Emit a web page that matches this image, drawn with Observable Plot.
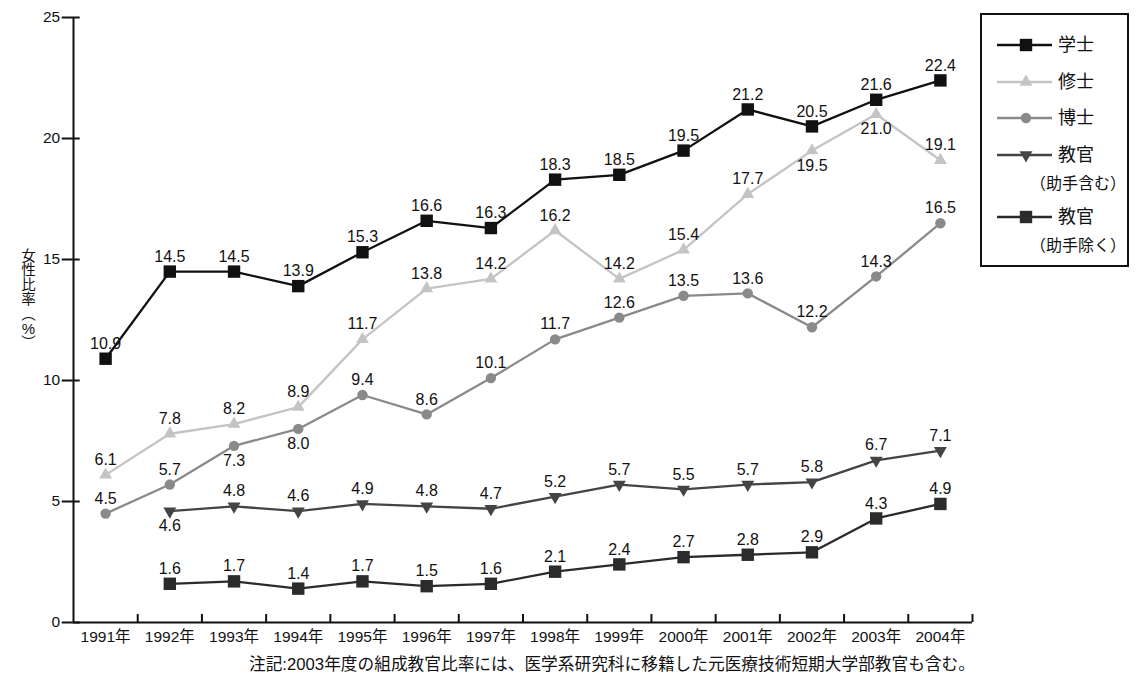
<!DOCTYPE html>
<html><head><meta charset="utf-8">
<script src="https://cdn.jsdelivr.net/npm/d3@7"></script>
<script src="https://cdn.jsdelivr.net/npm/@observablehq/plot@0.6"></script>
<style>
body{margin:0;background:#fff;font-family:"Liberation Sans","Noto Sans CJK JP",sans-serif;color:#111;}
#wrap{position:relative;width:1138px;height:675px;overflow:hidden;}
#chart{position:absolute;left:0;top:0;}
#ylabel{position:absolute;left:20px;top:248px;writing-mode:vertical-rl;font-size:14.5px;line-height:16px;font-family:"Noto Sans CJK JP",sans-serif;color:#111;}
#ylabel .pct{text-combine-upright:all;font-family:"Liberation Sans",sans-serif;font-size:15px;}
#note{position:absolute;left:249px;top:656px;font-size:16.7px;line-height:18px;white-space:nowrap;}
#legend{position:absolute;left:980px;top:13px;}
</style></head>
<body>
<div id="wrap">
  <div id="chart"></div>
  <div id="ylabel">女性比率（<span class="pct">%</span>）</div>
  <div id="legend"></div>
  <div id="note">注記:2003年度の組成教官比率には、医学系研究科に移籍した元医療技術短期大学部教官も含む。</div>
</div>
<script>
const years = [1991,1992,1993,1994,1995,1996,1997,1998,1999,2000,2001,2002,2003,2004];
const gakushi = [10.9,14.5,14.5,13.9,15.3,16.6,16.3,18.3,18.5,19.5,21.2,20.5,21.6,22.4];
const shushi = [6.1,7.8,8.2,8.9,11.7,13.8,14.2,16.2,14.2,15.4,17.7,19.5,21.0,19.1];
const hakushi = [4.5,5.7,7.3,8.0,9.4,8.6,10.1,11.7,12.6,13.5,13.6,12.2,14.3,16.5];
const kyokanIncl = [null,4.6,4.8,4.6,4.9,4.8,4.7,5.2,5.7,5.5,5.7,5.8,6.7,7.1];
const kyokanExcl = [null,1.6,1.7,1.4,1.7,1.5,1.6,2.1,2.4,2.7,2.8,2.9,4.3,4.9];
const seriesNames = ["学士","修士","博士","教官（助手含む）","教官（助手除く）"];
const legendMain = ["学士","修士","博士","教官","教官"];
const legendSub = [null,null,null,"（助手含む）","（助手除く）"];
const yTicks = [0,5,10,15,20,25];

const seriesValues = [gakushi, shushi, hakushi, kyokanIncl, kyokanExcl];
const styles = [
  {stroke:"#111", symbol:"square", r:7, rotate:0},
  {stroke:"#c4c4c4", symbol:"triangle", r:4.8, rotate:0},
  {stroke:"#8a8a8a", symbol:"circle", r:5.2, rotate:0},
  {stroke:"#444", symbol:"triangle", r:4.8, rotate:180},
  {stroke:"#2b2b2b", symbol:"square", r:7, rotate:0}
];
// label placement: which years get labels below the point
const labelsBelow = {"修士":[2002,2003], "博士":[1993,1994], "教官（助手含む）":[1992]};

const marks = [];
seriesNames.forEach((name, i) => {
  const rows = years.map((y, j) => ({year:y, value:seriesValues[i][j], series:name}))
                    .filter(d => d.value != null);
  const st = styles[i];
  const below = labelsBelow[name] || [];
  marks.push(Plot.line(rows, {x:"year", y:"value", stroke:st.stroke, strokeWidth:2.3}));
  marks.push(Plot.dot(rows, {x:"year", y:"value", symbol:()=>st.symbol, r:st.r, fill:st.stroke, stroke:"none", rotate:st.rotate}));
  marks.push(Plot.text(rows.filter(d => !below.includes(d.year)), {x:"year", y:"value", text:d=>d.value.toFixed(1), dy:-15, fontSize:16, fill:"#111"}));
  marks.push(Plot.text(rows.filter(d => below.includes(d.year)), {x:"year", y:"value", text:d=>d.value.toFixed(1), dy:15, fontSize:16, fill:"#111"}));
});

const boundaries = years.map(y => y + 0.5);

const chart = Plot.plot({
  width:1138, height:650,
  marginLeft:73, marginRight:166, marginTop:17, marginBottom:28,
  style:{fontFamily:'"Liberation Sans","Noto Sans CJK JP",sans-serif', fontSize:"16px", color:"#111", background:"#fff", overflow:"visible"},
  x:{domain:[years[0]-0.5, years[years.length-1]+0.5]},
  y:{domain:[0,25]},
  symbol:{type:"identity"},
  marks:[
    Plot.axisY({ticks:yTicks, tickSize:18, dx:6.7, tickPadding:2, tickFormat:d=>String(d), strokeWidth:2, label:null}),
    Plot.axisX({ticks:years, tickSize:0, tickPadding:8, tickFormat:d=>d+"年", label:null}),
    Plot.ruleX(boundaries, {y1:0, y2:0.33, stroke:"#111", strokeWidth:2}),
    Plot.ruleX([years[0]-0.5], {stroke:"#111", strokeWidth:2}),
    Plot.ruleY([0], {stroke:"#111", strokeWidth:2}),
    ...marks
  ]
});
// axis tick labels (the only texts without a decimal point) a little larger
d3.select(chart).selectAll("text").filter(function(){ return !this.textContent.includes("."); })
  .style("font-size","15.5px");
document.getElementById("chart").appendChild(chart);

// legend
const lg = d3.select("#legend").append("svg").attr("width",152).attr("height",258)
  .style("font-family",'"Noto Sans CJK JP",sans-serif');
lg.append("rect").attr("x",1).attr("y",1).attr("width",147).attr("height",252)
  .attr("fill","#fff").attr("stroke","#111").attr("stroke-width",2);
const rowY = [32,69,105,142,204];
const subY = [null,null,null,170,232];
const symMap = {square:d3.symbolSquare, triangle:d3.symbolTriangle, circle:d3.symbolCircle};
seriesNames.forEach((name,i) => {
  const st = styles[i];
  const g = lg.append("g");
  g.append("line").attr("x1",17).attr("x2",72).attr("y1",rowY[i]).attr("y2",rowY[i])
    .attr("stroke",st.stroke).attr("stroke-width",2.3);
  g.append("path").attr("d", d3.symbol().type(symMap[st.symbol]).size(Math.PI*st.r*st.r)())
    .attr("transform",`translate(46,${rowY[i]}) rotate(${st.rotate})`).attr("fill",st.stroke);
  g.append("text").attr("x",78).attr("y",rowY[i]).attr("dy","0.36em").attr("font-size",18)
    .attr("fill","#111").text(legendMain[i]);
  if (legendSub[i]) {
    g.append("text").attr("x",50).attr("y",subY[i]).attr("dy","0.36em").attr("font-size",16)
      .attr("fill","#111").text(legendSub[i]);
  }
});
</script>
</body></html>
